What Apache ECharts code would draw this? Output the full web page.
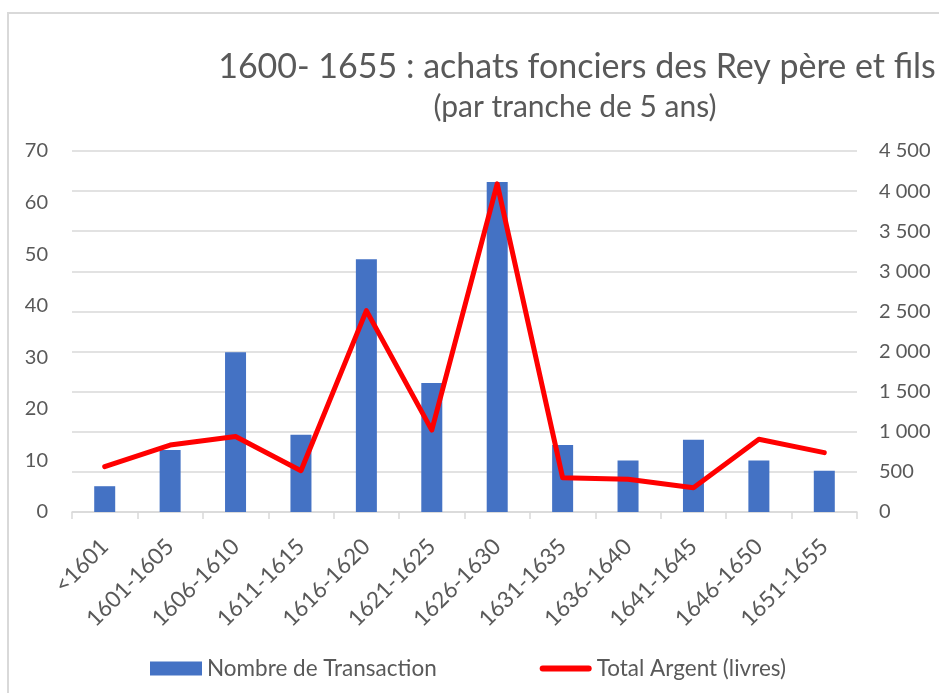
<!DOCTYPE html>
<html>
<head>
<meta charset="utf-8">
<script src="https://cdn.jsdelivr.net/npm/echarts@6/dist/echarts.min.js"></script>
<style>
  html, body { margin: 0; padding: 0; background: #fff; }
  #chart { width: 939px; height: 693px; }
</style>
</head>
<body>
<div id="chart"></div>
<script>
// Five-year periods
const periods = ['<1601', '1601-1605', '1606-1610', '1611-1615', '1616-1620', '1621-1625',
  '1626-1630', '1631-1635', '1636-1640', '1641-1645', '1646-1650', '1651-1655'];
// Number of transactions per period (left axis)
const transactions = [5, 12, 31, 15, 49, 25, 64, 13, 10, 14, 10, 8];
// Total amount in livres per period (right axis)
const totalLivres = [565, 835, 940, 515, 2510, 1020, 4090, 428, 408, 303, 906, 740];

const FONT = 'Lato';
const GREY = '#595959';

const chart = echarts.init(document.getElementById('chart'), null, { renderer: 'canvas' });

const fmtSpace = v => String(v).replace(/\B(?=(\d{3})+(?!\d))/g, ' ');

chart.setOption({
  backgroundColor: '#fff',
  animation: false,
  textStyle: { fontFamily: FONT },
  graphic: [
    {
      type: 'rect',
      shape: { x: 8, y: 13, width: 1200, height: 1200 },
      style: { fill: 'none', stroke: '#d9d9d9', lineWidth: 2 },
      silent: true
    }
  ],
  title: [
    {
      text: '1600- 1655 : achats fonciers des Rey père et fils',
      left: 572, top: 45, textAlign: 'center',
      textStyle: { fontFamily: FONT, fontSize: 34, fontWeight: 'normal', color: GREY }
    },
    {
      text: '(par tranche de 5 ans)',
      left: 570, top: 87, textAlign: 'center',
      textStyle: { fontFamily: FONT, fontSize: 30, fontWeight: 'normal', color: GREY }
    }
  ],
  legend: {
    left: 150, top: 657, padding: 0,
    itemWidth: 52, itemHeight: 14, itemGap: 103,
    textStyle: { fontFamily: FONT, fontSize: 22.5, color: GREY },
    data: [
      { name: 'Nombre de Transaction', icon: 'rect' },
      { name: 'Total Argent (livres)', icon: 'path://M3,0 H49 A3,3 0 0 1 49,6 H3 A3,3 0 0 1 3,0 Z' }
    ]
  },
  grid: { left: 72, right: 82, top: 151, bottom: 181, containLabel: false },
  xAxis: {
    type: 'category',
    data: periods,
    boundaryGap: true,
    axisLine: { lineStyle: { color: '#d9d9d9', width: 1.5 } },
    axisTick: { show: true, length: 7, lineStyle: { color: '#d9d9d9', width: 1.5 } },
    axisLabel: {
      interval: 0, rotate: 45, margin: 31,
      fontFamily: FONT, fontSize: 22.5, color: GREY
    }
  },
  yAxis: [
    {
      type: 'value', min: 0, max: 70, interval: 10,
      axisLine: { show: false }, axisTick: { show: false },
      splitLine: { show: false },
      axisLabel: { fontFamily: FONT, fontSize: 20, color: GREY, margin: 24 }
    },
    {
      type: 'value', min: 0, max: 4500, interval: 500,
      axisLine: { show: false }, axisTick: { show: false },
      splitLine: { show: true, lineStyle: { color: '#d9d9d9', width: 1.5 } },
      axisLabel: { fontFamily: FONT, fontSize: 20, color: GREY, margin: 22, formatter: fmtSpace }
    }
  ],
  series: [
    {
      name: 'Nombre de Transaction',
      type: 'bar',
      yAxisIndex: 0,
      data: transactions,
      barWidth: 21,
      itemStyle: { color: '#4472c4' },
      z: 2
    },
    {
      name: 'Total Argent (livres)',
      type: 'line',
      yAxisIndex: 1,
      data: totalLivres,
      symbol: 'none',
      lineStyle: { color: '#ff0000', width: 5, join: 'round', cap: 'round' },
      itemStyle: { color: '#ff0000' },
      z: 3
    }
  ]
});
</script>
</body>
</html>
